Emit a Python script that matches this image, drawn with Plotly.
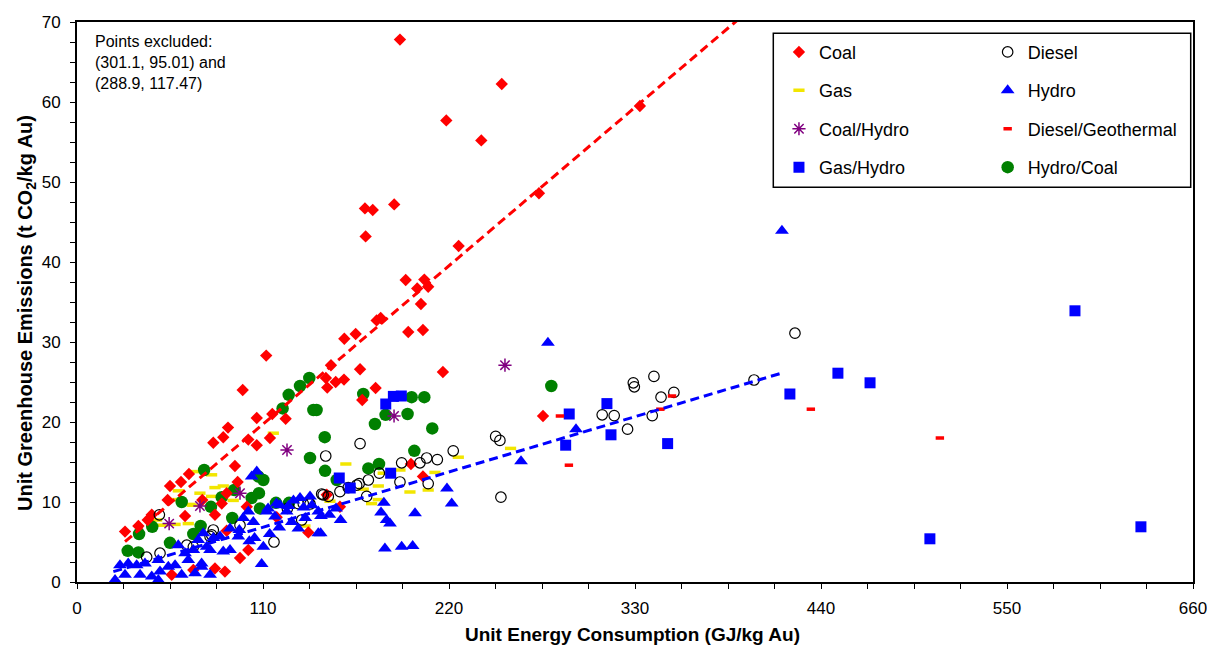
import plotly.graph_objects as go

# ---------------- data ----------------
coal_x = [191.0, 251.2, 218.4, 239.1, 332.9, 170.3, 174.9, 187.6, 170.7, 225.7, 273.2,
          194.4, 205.4, 207.7, 201.2, 203.4, 204.6, 195.9, 216.4, 275.6, 158.1, 164.8,
          177.2, 179.6, 150.2, 167.4, 147.2, 148.0, 153.0, 157.9, 176.6, 168.7, 197.5,
          204.6, 155.5, 111.9, 98.0, 115.5, 123.4, 106.3, 89.3, 86.5, 80.6, 101.3, 114.1,
          106.3, 93.4, 95.0, 88.5, 81.6, 88.5, 101.3, 96.4, 81.6, 87.5, 136.8, 118.1,
          28.4, 36.3, 41.8, 44.2, 53.6, 55.0, 61.5, 66.2, 63.9, 56.0, 68.8, 74.1, 100.4,
          85.6, 147.7]
coal_y = [67.8, 62.25, 57.7, 55.2, 59.5, 46.7, 46.5, 47.2, 43.2, 42.0, 48.6,
          37.75, 37.8, 36.9, 36.7, 34.75, 31.5, 31.25, 26.25, 20.75, 30.4, 31.0,
          32.7, 33.0, 27.1, 26.6, 25.5, 24.3, 25.0, 25.3, 24.25, 22.75, 14.75,
          13.2, 9.4, 28.3, 24.0, 21.0, 20.4, 20.5, 19.3, 18.1, 17.4, 17.8, 18.0,
          17.1, 14.5, 12.5, 11.1, 8.4, 6.4, 4.0, 3.0, 1.7, 1.3, 6.2, 8.1,
          6.3, 7.0, 7.75, 8.4, 10.25, 12.0, 12.5, 13.5, 8.25, 0.9, 1.5, 10.25, 9.4,
          9.8, 10.9]

diesel_x = [424.6, 400.4, 341.2, 329.0, 329.6, 353.0, 345.4, 310.6, 317.7, 340.2, 325.6,
            247.6, 250.1, 222.5, 167.4, 147.1, 213.1, 206.8, 202.8, 192.0, 250.7, 207.7,
            191.0, 172.3, 166.9, 178.8, 171.3, 165.4, 155.5, 148.6, 144.7, 145.6, 137.8,
            133.8, 130.9, 124.4, 132.9, 116.5, 96.4, 80.6, 79.6, 78.7, 48.7, 49.1, 41.2,
            64.9, 68.8, 136.8, 160.4]
diesel_y = [31.1, 25.25, 25.7, 24.9, 24.4, 23.7, 23.1, 20.9, 20.8, 20.8, 19.1,
            18.2, 17.7, 16.4, 17.3, 15.75, 15.3, 15.5, 14.9, 14.9, 10.6, 12.3,
            12.5, 12.75, 12.3, 13.6, 10.7, 12.1, 11.3, 10.7, 11.0, 10.9, 9.75,
            9.8, 9.8, 9.2, 7.75, 5.0, 7.1, 6.5, 5.9, 5.7, 8.4, 3.6, 3.1,
            4.6, 4.4, 10.0, 11.8]

gas_x = [159.0, 225.5, 191.0, 211.7, 178.2, 169.3, 196.9, 207.7, 181.1, 178.2, 174.2,
         149.6, 256.4, 59.9, 72.7, 56.4, 66.8, 65.8, 58.0, 50.4, 47.1, 69.8, 79.6,
         81.6, 86.5, 79.6, 92.4, 116.1, 68.4, 134.8]
gas_y = [14.75, 15.6, 14.0, 13.7, 12.0, 11.6, 11.25, 11.5, 13.6, 10.3, 9.8,
         10.1, 16.7, 11.4, 11.1, 10.3, 9.7, 7.3, 7.2, 7.1, 7.75, 13.8, 13.4,
         11.8, 12.0, 10.7, 10.2, 18.6, 9.6, 7.0]

hydro_x = [416.9, 278.5, 295.1, 262.6, 218.8, 221.6, 199.9, 182.1, 192.0, 198.5, 181.5,
           179.8, 183.1, 185.1, 155.9, 149.2, 153.2, 144.3, 144.1,
           106.3, 103.3, 131.9, 137.8, 142.7, 142.7, 130.9, 119.6, 110.2, 109.2, 101.9,
           90.5, 86.5, 78.7, 73.7, 78.7, 76.7, 95.4, 104.3, 112.2, 117.1, 124.0, 120.0,
           101.3, 98.3, 90.5, 84.6, 80.6, 113.0, 118.0, 125.0, 128.0, 134.0, 139.0,
           127.0, 135.0, 96.0, 114.0, 105.0,
           22.5, 28.4, 25.4, 30.3, 35.3, 40.2, 44.2, 48.1, 49.1, 48.1, 37.3, 58.0,
           61.9, 65.8, 68.8, 69.8, 73.7, 59.9, 63.9, 71.7, 74.7, 54.0]
hydro_y = [43.9, 29.9, 19.1, 15.1, 11.7, 9.8, 8.6, 4.2, 4.4, 4.5, 9.9,
           8.7, 7.75, 7.3, 7.75, 8.4, 9.2, 8.25, 6.1,
           13.8, 13.2, 10.5, 10.7, 8.8, 6.1, 6.7, 6.8, 4.4, 2.25, 5.1,
           4.0, 3.8, 4.0, 1.9, 0.9, 4.4, 5.7, 7.5, 8.8, 8.2, 8.8, 9.6,
           8.8, 8.0, 6.7, 5.7, 5.5, 9.2, 9.8, 9.5, 10.2, 9.3, 9.6,
           7.5, 8.0, 6.5, 6.0, 5.5,
           0.25, 0.9, 2.1, 2.3, 2.1, 2.3, 0.7, 0.25, 1.3, 2.75, 0.9, 2.1,
           0.9, 2.75, 4.0, 1.1, 2.3, 4.6, 3.6, 5.25, 6.1, 1.9]

coal_hydro_x = [253.1, 187.5, 124.2, 96.4, 72.7, 54.5]
coal_hydro_y = [27.1, 20.75, 16.5, 11.1, 9.5, 7.3]

diesel_geo_x = [434.0, 510.3, 290.9, 285.6, 351.9, 345.0]
diesel_geo_y = [21.6, 18.0, 14.6, 20.75, 23.25, 21.6]

gas_hydro_x = [590.2, 450.0, 469.0, 421.6, 504.4, 629.2, 349.3, 313.4, 291.1, 289.0, 315.8,
               182.6, 187.1, 191.8, 185.5, 161.6, 155.1]
gas_hydro_y = [33.9, 26.1, 24.9, 23.5, 5.4, 6.9, 17.3, 22.3, 21.0, 17.1, 18.4,
               22.25, 23.2, 23.25, 13.6, 11.75, 13.0]

hydro_coal_x = [280.5, 169.3, 197.9, 205.4, 182.5, 195.5, 176.2, 210.1, 146.5, 199.5, 146.7,
                172.3, 178.6, 153.6, 139.8, 141.7, 137.4, 131.9, 125.2, 121.6, 137.8, 75.2,
                61.9, 79.2, 85.6, 93.0, 103.3, 107.2, 110.2, 107.6, 108.2, 91.8, 73.1,
                68.8, 55.0, 44.5, 36.7, 30.0, 36.3, 117.7, 125.4]
hydro_coal_y = [24.5, 23.5, 23.1, 23.1, 20.9, 21.0, 19.75, 19.2, 18.1, 16.4, 13.9,
                14.2, 14.75, 12.75, 21.5, 21.5, 25.5, 24.5, 23.4, 21.7, 15.5, 14.0,
                10.0, 9.4, 10.6, 11.5, 10.5, 13.2, 12.75, 11.1, 9.2, 8.0, 7.0,
                6.0, 4.9, 6.9, 6.0, 3.9, 3.7, 9.9, 9.9]

# linear trend lines (slope, intercept, x start, x end)
coal_fit = (0.18, -0.07, 28.4, 420.0)
hydro_fit = (0.0628, -0.06, 21.5, 417.9)

x_ticks = [0, 110, 220, 330, 440, 550, 660]
y_ticks = [0, 10, 20, 30, 40, 50, 60, 70]

FONT = "Liberation Sans, Arial, sans-serif"

fig = go.Figure()


def add_series(name, xs, ys, symbol, size, color, line_color=None, line_width=0,
               legend="legend", rank=1):
    fig.add_trace(go.Scatter(
        x=xs, y=ys, mode="markers", name=name, legend=legend, legendgroup=name,
        legendrank=rank,
        marker=dict(symbol=symbol, size=size, color=color,
                    line=dict(color=line_color if line_color else color, width=line_width)),
        cliponaxis=False,
    ))


# draw order: background series first; legend order set by rank
add_series("Gas", gas_x, gas_y, "line-ew", 8, "#F2E600", "#F2E600", 3.5, "legend", 2)
add_series("Hydro/Coal", hydro_coal_x, hydro_coal_y, "circle", 12.5, "#008000",
           legend="legend2", rank=4)
add_series("Coal", coal_x, coal_y, "diamond", 9.5, "#FF0000", legend="legend", rank=1)
add_series("Diesel", diesel_x, diesel_y, "circle-open", 10.5, "#000000", "#000000", 1.2,
           "legend2", 1)
add_series("Hydro", hydro_x, hydro_y, "triangle-up", 12, "#0000FF", legend="legend2", rank=2)
add_series("Gas/Hydro", gas_hydro_x, gas_hydro_y, "square", 11, "#0000FF", legend="legend",
           rank=4)
add_series("Coal/Hydro", coal_hydro_x, coal_hydro_y, "asterisk-open", 11, "#800080", "#800080",
           1.5, "legend", 3)
add_series("Diesel/Geothermal", diesel_geo_x, diesel_geo_y, "line-ew", 6, "#FF0000", "#FF0000",
           3.5, "legend2", 3)

# trend lines
for (m, b, x0, x1), col in [(coal_fit, "#FF0000"), (hydro_fit, "#0000FF")]:
    fig.add_trace(go.Scatter(
        x=[x0, x1], y=[m * x0 + b, m * x1 + b], mode="lines", showlegend=False,
        line=dict(color=col, width=3, dash="9px,5px"), hoverinfo="skip",
    ))

L, R, T, B = 77, 14, 22, 64
W, H = 1207, 646
PW, PH = W - L - R, H - T - B

legend_common = dict(
    font=dict(family=FONT, size=18, color="black"),
    bgcolor="rgba(255,255,255,0)", borderwidth=0,
    traceorder="grouped", tracegroupgap=12, itemsizing="trace",
    xanchor="left", yanchor="top", orientation="v",
)

fig.update_layout(
    width=W, height=H,
    margin=dict(l=L, r=R, t=T, b=B, pad=0, autoexpand=False),
    paper_bgcolor="white", plot_bgcolor="white",
    font=dict(family=FONT, size=17, color="black"),
    showlegend=True,
    legend=dict(**legend_common, x=0.629, y=0.979),
    legend2=dict(**legend_common, x=0.816, y=0.979),
    xaxis=dict(
        range=[0, 660], tickvals=x_ticks, ticks="outside", ticklen=5, tickwidth=1,
        tickcolor="black", showgrid=False, zeroline=False, showline=True,
        linecolor="black", linewidth=2, mirror=True, automargin=False,
        minor=dict(dtick=27.5, ticks="outside", ticklen=5, tickcolor="black", showgrid=False),
        tickfont=dict(family=FONT, size=17), ticklabelstandoff=5,
        ticklabeloverflow="allow",
    ),
    yaxis=dict(
        range=[0, 70], tickvals=y_ticks, ticks="outside", ticklen=5, tickwidth=1,
        tickcolor="black", showgrid=False, zeroline=False, showline=True,
        linecolor="black", linewidth=2, mirror=True, automargin=False,
        minor=dict(dtick=2.5, ticks="outside", ticklen=5, tickcolor="black", showgrid=False),
        tickfont=dict(family=FONT, size=17), ticklabelstandoff=6,
        ticklabeloverflow="allow",
    ),
    shapes=[dict(type="rect", xref="paper", yref="paper",
                 x0=(773.3 - L) / PW, x1=(1190.7 - L) / PW,
                 y0=1 - (187.3 - T) / PH, y1=1 - (33.3 - T) / PH,
                 line=dict(color="black", width=1.5), fillcolor="rgba(0,0,0,0)",
                 layer="above")],
    annotations=[
        dict(text="Points excluded:<br>(301.1, 95.01) and<br>(288.9, 117.47)",
             xref="paper", yref="paper", x=(93 - L) / PW, y=1 - (31 - T) / PH,
             xanchor="left", yanchor="top", align="left", showarrow=False,
             font=dict(family=FONT, size=16, color="black")),
        dict(text="<b>Unit Greenhouse Emissions (t CO<sub>2</sub>/kg Au)</b>",
             xref="paper", yref="paper", x=(26 - L) / PW, y=1 - (313 - T) / PH,
             xanchor="center", yanchor="middle", textangle=-90, showarrow=False,
             font=dict(family=FONT, size=20, color="black")),
        dict(text="<b>Unit Energy Consumption (GJ/kg Au)</b>",
             xref="paper", yref="paper", x=(632 - L) / PW, y=1 - (646 - T) / PH,
             xanchor="center", yanchor="bottom", showarrow=False, borderpad=0,
             font=dict(family=FONT, size=19, color="black")),
    ],
)

fig.write_html("out.html", config={"displayModeBar": False},
               post_script="document.body.style.margin='0';")
